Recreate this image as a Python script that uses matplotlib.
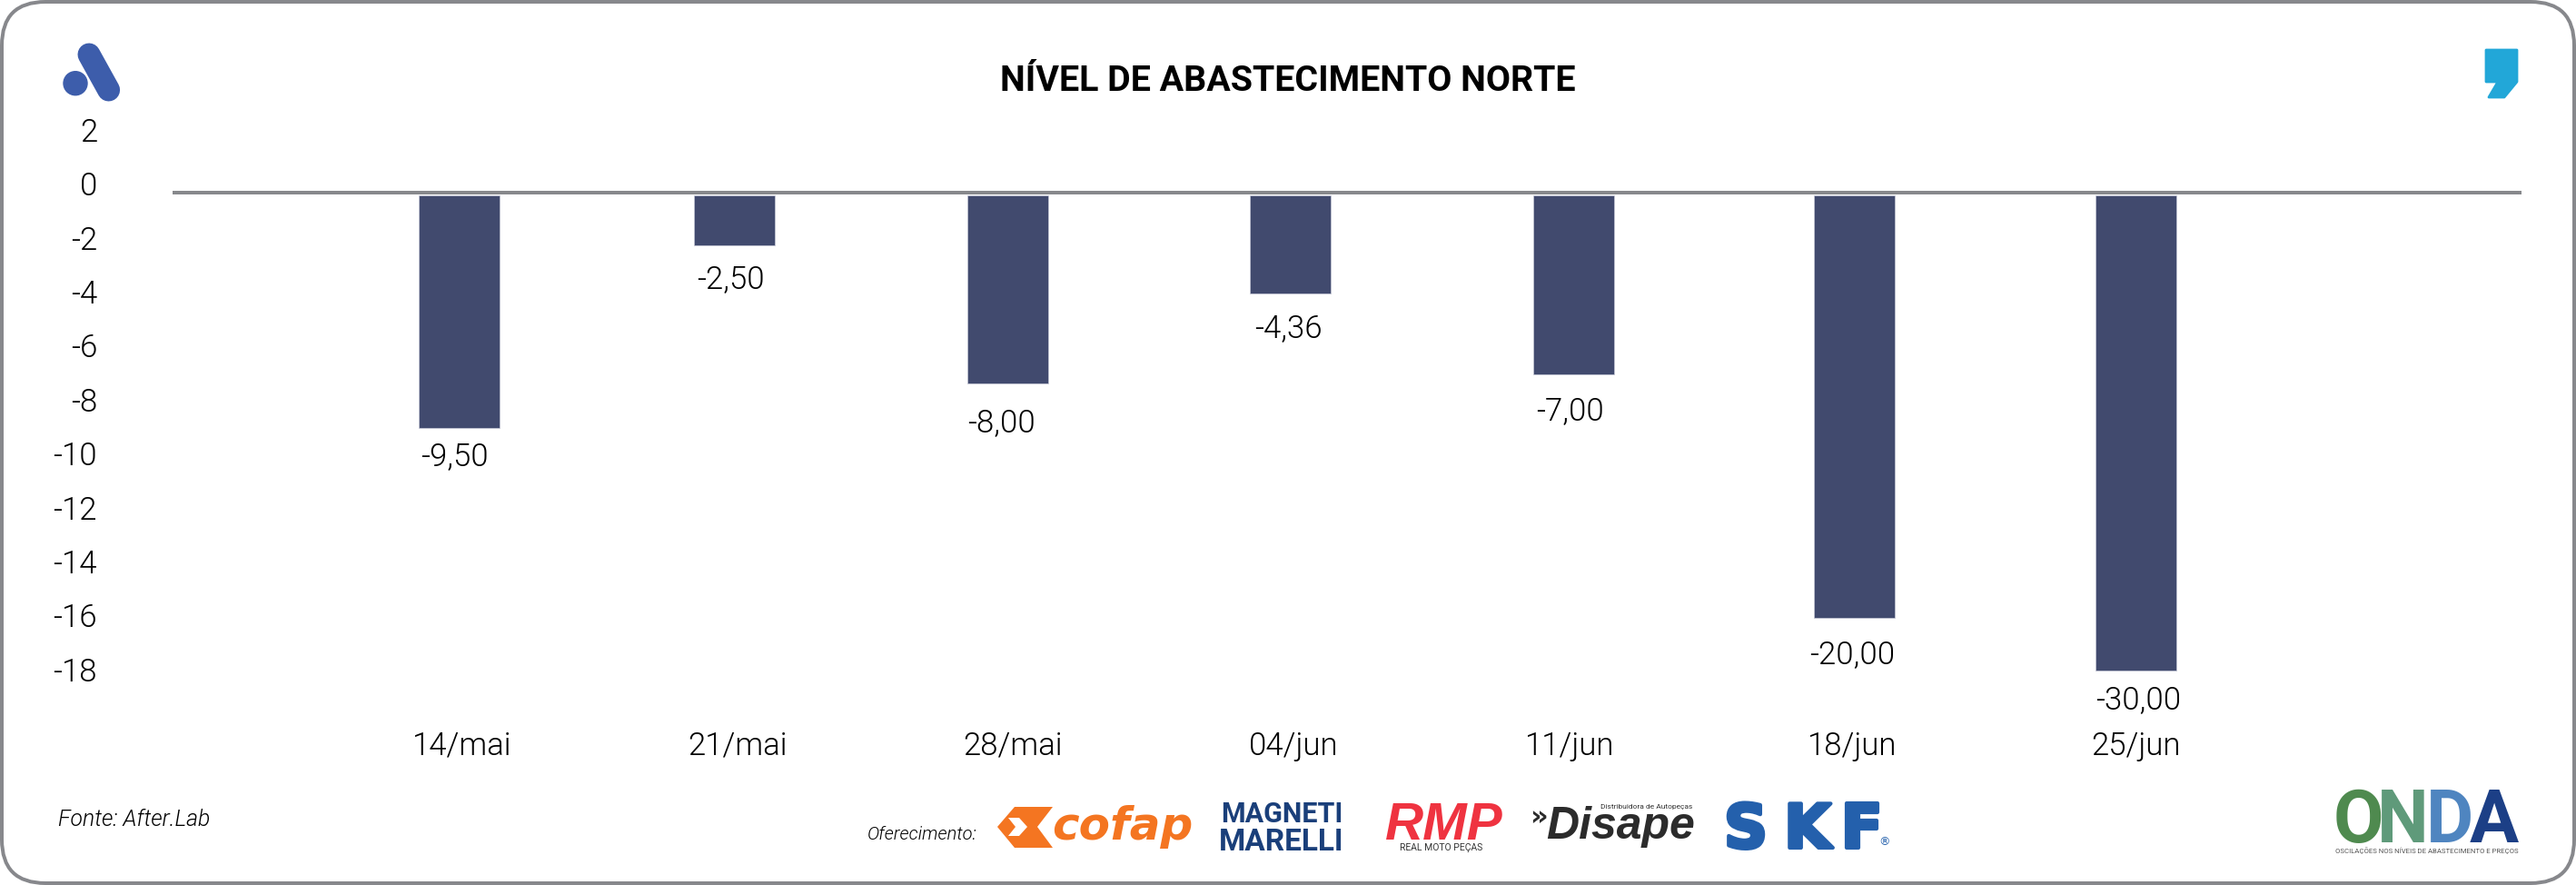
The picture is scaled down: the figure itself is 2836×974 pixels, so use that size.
import matplotlib
matplotlib.use("Agg")
import matplotlib.pyplot as plt
import matplotlib.patheffects as pe
from matplotlib.patches import FancyBboxPatch, Polygon, Ellipse
from matplotlib.transforms import ScaledTranslation

categories = ["14/mai", "21/mai", "28/mai", "04/jun", "11/jun", "18/jun", "25/jun"]
bar_values = [-8.72, -1.95, -7.08, -3.74, -6.73, -15.76, -17.72]
bar_labels = ["-9,50", "-2,50", "-8,00", "-4,36", "-7,00", "-20,00", "-30,00"]
y_ticks = [2, 0, -2, -4, -6, -8, -10, -12, -14, -16, -18]

W, H = 2836, 974
DPI = 100
FONT = "Roboto"
LIGHT = 300

bar_px = [505, 808.5, 1109, 1420, 1732, 2041.5, 2351.5]
tick_px = [509, 812, 1115, 1424, 1728, 2039, 2352]
label_px = [500, 804, 1103, 1418, 1729, 2039, 2354]
label_dy = [31, 37, 43, 38, 40, 40, 32]

fig = plt.figure(figsize=(W / DPI, H / DPI), dpi=DPI, facecolor="white")
pt = 72 / DPI

bg = fig.add_axes([0, 0, 1, 1])
bg.set_xlim(0, W); bg.set_ylim(H, 0); bg.axis("off")
bg.add_patch(FancyBboxPatch((2, 2), W - 4, H - 4, boxstyle="round,pad=0,rounding_size=48",
                            fc="white", ec="#87888c", lw=4 * pt))

L, R, T, B = 190, 2776, 130, 760
k = 29.7
zero = 212
ax = fig.add_axes([L / W, 1 - B / H, (R - L) / W, (B - T) / H])
ax.patch.set_alpha(0)
ax.set_xlim(L, R)
ax.set_ylim((zero - B) / k, (zero - T) / k)
for s in ax.spines.values():
    s.set_visible(False)
ax.bar(bar_px, [v + 0.1 for v in bar_values], bottom=-0.1, width=89, color="#414a6e",
       edgecolor="#c6c9d6", linewidth=0.5)
ax.axhline(0, color="#87888c", lw=4 * pt)
ax.set_yticks(y_ticks)
ax.set_yticklabels([str(v) for v in y_ticks])
ax.set_xticks(tick_px)
ax.set_xticklabels(categories)
ax.tick_params(axis="both", length=0)
ax.tick_params(axis="y", pad=(L - 107) * pt, labelsize=25)
ax.tick_params(axis="x", pad=(804 - B) * pt, labelsize=25)
for lab in ax.get_yticklabels() + ax.get_xticklabels():
    lab.set_fontfamily(FONT)
    lab.set_fontweight(LIGHT)
for lab in ax.get_yticklabels():
    lab.set_transform(lab.get_transform() + ScaledTranslation(0, 10 / DPI, fig.dpi_scale_trans))
for x, v, s, dy in zip(label_px, bar_values, bar_labels, label_dy):
    ax.annotate(s, (x, v), xytext=(0, -dy * pt), textcoords="offset points",
                ha="center", va="center", fontsize=25, family=FONT, fontweight=LIGHT)

bg2 = fig.add_axes([0, 0, 1, 1])
bg2.patch.set_alpha(0)
bg2.set_xlim(0, W); bg2.set_ylim(H, 0); bg2.axis("off")

bg2.text(1418, 90, "NÍVEL DE ABASTECIMENTO NORTE", ha="center", va="center",
         fontsize=28.4, fontweight="bold", family=FONT, color="black")
bg2.text(64, 902, "Fonte: After.Lab", ha="left", va="center", fontsize=17.8, style="italic",
         family=FONT, fontweight=LIGHT)
bg2.text(955, 919, "Oferecimento:", ha="left", va="center", fontsize=14.5, style="italic",
         family=FONT, fontweight=LIGHT)

# A logo
bg2.plot([98, 119.6], [60, 99], color="#3d5dab", lw=25 * pt, solid_capstyle="round")
bg2.add_patch(Ellipse((83, 91.7), 26, 26, color="#3d5dab"))
# comma logo
bg2.add_patch(Polygon([(2737, 55), (2771, 55), (2771, 90), (2757, 107), (2740, 107), (2750, 90), (2737, 90)],
                      closed=True, fc="#22a7d8", ec="#22a7d8", lw=2, joinstyle="round"))
# cofap
orange = "#f47521"
bg2.add_patch(Polygon([(1117, 888), (1159, 888), (1142, 910), (1159, 933), (1117, 933), (1098, 910)],
                      closed=True, fc=orange, ec="none"))
bg2.add_patch(Polygon([(1110, 900), (1122, 900), (1131, 910), (1122, 920), (1110, 920), (1118, 910)],
                      closed=True, fc="white", ec="none"))
bg2.text(1236, 924, "cofap", ha="center", va="baseline", fontsize=36, fontweight="bold", style="italic",
         family="DejaVu Sans", color=orange)
# Magneti Marelli
navy = "#1a3f7a"
bg2.text(1411, 896, "MAGNETI", ha="center", va="center", fontsize=22, fontweight="bold", family=FONT, color=navy)
bg2.text(1411, 927, "MARELLI", ha="center", va="center", fontsize=24, fontweight="bold", family=FONT, color=navy)
# RMP
bg2.text(1590, 924, "RMP", ha="center", va="baseline", fontsize=42, fontweight="bold", style="italic",
         family="Liberation Sans", color="#ef3340")
bg2.text(1587, 933, "REAL MOTO PEÇAS", ha="center", va="center", fontsize=7.5, family=FONT, color="#333333")
# Disape
bg2.text(1684, 900, "»", ha="left", va="center", fontsize=22, fontweight="bold", family="DejaVu Sans", color="#2b2b2b")
bg2.text(1784, 923, "Disape", ha="center", va="baseline", fontsize=36, fontweight="bold", style="italic",
         family="Liberation Sans", color="#2b2b2b")
bg2.text(1813, 888, "Distribuidora de Autopeças", ha="center", va="center", fontsize=6, family=FONT, color="#333333")
# SKF
for ch, x in zip("SKF", [1922, 1990, 2050]):
    bg2.text(x, 933, ch, ha="center", va="baseline", fontsize=48, fontweight="bold", family="DejaVu Sans",
             color="#2460ac", path_effects=[pe.withStroke(linewidth=3, foreground="#2460ac")])
bg2.text(2075, 927, "®", ha="center", va="center", fontsize=9, family="DejaVu Sans", color="#2460ac")
# ONDA
for ch, x, c in zip("ONDA", [2596, 2645, 2697, 2746], ["#4f8a4f", "#5f9a7a", "#4f85c0", "#1c3f86"]):
    bg2.text(x, 927, ch, ha="center", va="baseline", fontsize=58, fontweight="bold", family=FONT, color=c)
bg2.text(2672, 936, "OSCILAÇÕES NOS NÍVEIS DE ABASTECIMENTO E PREÇOS", ha="center", va="center",
         fontsize=5.6, family=FONT, color="#555555")

fig.savefig("out.png", dpi=DPI)
